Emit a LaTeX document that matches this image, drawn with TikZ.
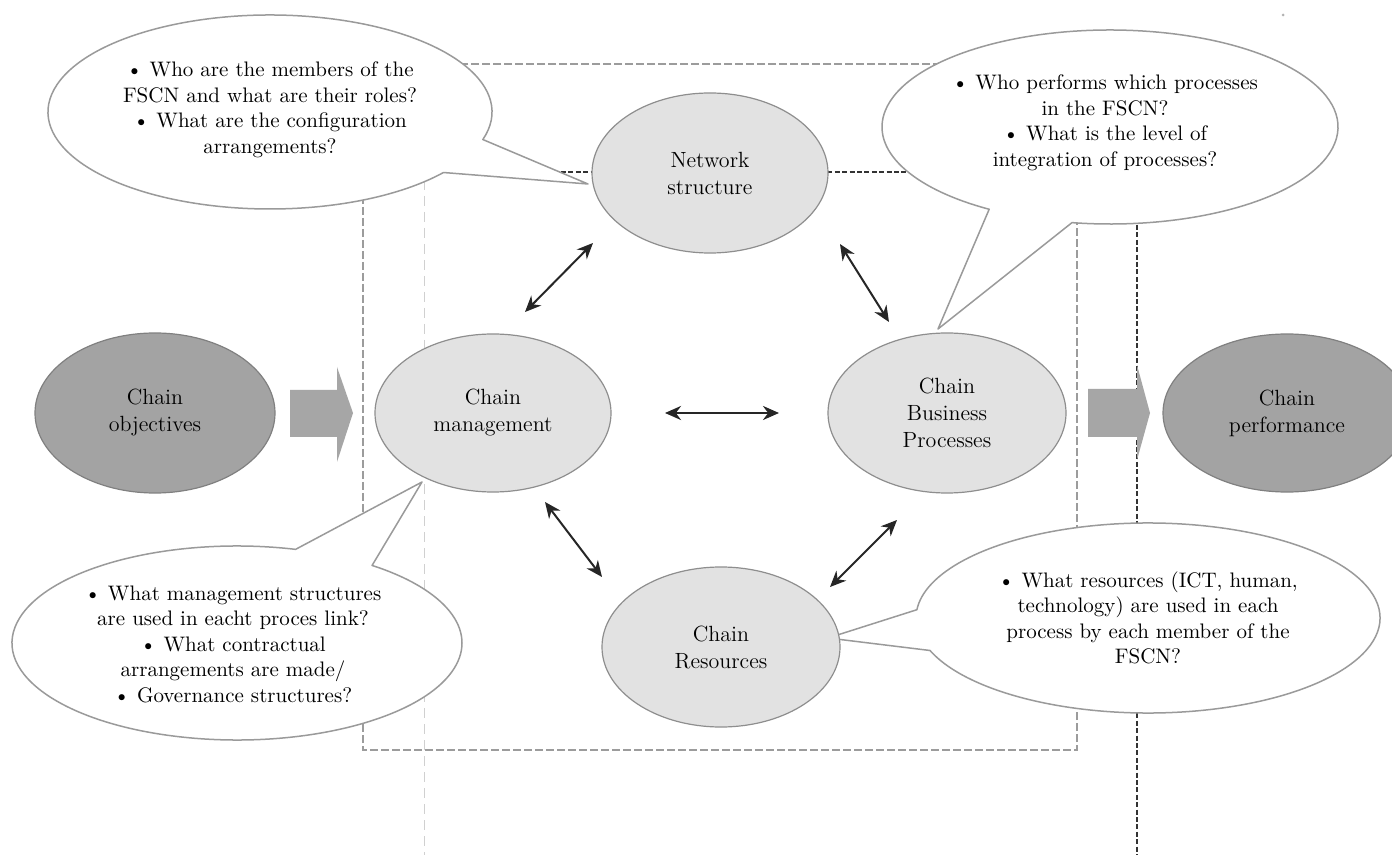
\documentclass[tikz,border=0pt]{standalone}
\usepackage{fontspec}
\usetikzlibrary{arrows.meta,shapes.geometric}
\definecolor{darkfill}{HTML}{A3A3A3}
\definecolor{darkedge}{HTML}{808080}
\definecolor{lightfill}{HTML}{E2E2E2}
\definecolor{lightedge}{HTML}{8E8E8E}
\definecolor{callline}{HTML}{9A9A9A}
\definecolor{blockfill}{HTML}{A6A6A6}
\definecolor{rectdash}{HTML}{9C9C9C}
\definecolor{faintdash}{HTML}{D0D0D0}
\definecolor{darkdash}{HTML}{333333}
\begin{document}
\begin{tikzpicture}[x=0.5pt,y=0.5pt,
  darkell/.style={ellipse, fill=darkfill, draw=darkedge, line width=0.6pt, inner sep=0pt,
    align=center, font=\fontsize{11}{13.5}\selectfont},
  lightell/.style={ellipse, fill=lightfill, draw=lightedge, line width=0.6pt, inner sep=0pt,
    align=center, font=\fontsize{11}{13.5}\selectfont},
  callout/.style={draw=callline, fill=white, line width=0.75pt, line join=round},
  ctext/.style={align=center, inner sep=0pt, font=\fontsize{10.5}{12.75}\selectfont},
  graydash/.style={draw=rectdash, line width=1pt, dash pattern=on 4pt off 1.5pt},
  faintline/.style={draw=faintdash, line width=0.5pt, dash pattern=on 5pt off 3pt},
  darkline/.style={draw=darkdash, line width=0.8pt, dash pattern=on 2.5pt off 1.2pt},
  blockarrow/.style={fill=blockfill},
  dbl/.style={{Stealth[length=8pt,width=7pt]}-{Stealth[length=8pt,width=7pt]}, line width=1pt, draw=black!85},
]
\useasboundingbox (0,0) rectangle (1392,-855);
\fill[white] (0,0) rectangle (1392,-855);

% dashed frames
\draw[graydash] (363,-64) rectangle (1077,-750);
\draw[faintline] (424,-100) -- (424,-855);
\draw[darkline] (450,-172) -- (1137,-172) -- (1137,-855);

% callouts
\draw[callout] (270,-112) ++(343.5:222 and 97)
  arc[start angle=343.5, end angle=681.4, x radius=222, y radius=97] -- (588,-184) -- cycle;
\draw[callout] (1110,-127) ++(260.4:228 and 97)
  arc[start angle=260.4, end angle=598, x radius=228, y radius=97] -- (938,-329) -- cycle;
\draw[callout] (237,-643) ++(74.9:225 and 97)
  arc[start angle=74.9, end angle=413.1, x radius=225, y radius=97] -- (422,-482) -- cycle;
\draw[callout] (1148,-618) ++(200:232 and 95)
  arc[start angle=200, end angle=535, x radius=232, y radius=95] -- (828,-638) -- cycle;

\node[ctext] (qnet) at (270,-110) {• Who are the members of the\\FSCN and what are their roles?\\• What are the configuration\\arrangements?};
\node[ctext] (qproc) at (1105,-123) {• Who performs which processes\\in the FSCN?\\• What is the level of\\integration of processes?};
\node[ctext] (qman) at (233,-644) {• What management structures\\are used in eacht proces link?\\• What contractual\\arrangements are made/\\• Governance structures?};
\node[ctext] (qres) at (1148,-618) {• What resources (ICT, human,\\technology) are used in each\\process by each member of the\\FSCN?};

% block arrows
\fill[blockfill] (290,-390) -- (337,-390) -- (337,-367) -- (353,-413) -- (337,-462) -- (337,-437) -- (290,-437) -- cycle;
\fill[blockfill] (1088,-389) -- (1137,-389) -- (1137,-365) -- (1150,-413) -- (1137,-460) -- (1137,-437) -- (1088,-437) -- cycle;

% main ellipses
\node[darkell, minimum width=120pt, minimum height=80pt] (obj) at (155,-413) {Chain\\objectives};
\node[lightell, minimum width=118pt, minimum height=79pt] (cm) at (493,-413) {Chain\\management};
\node[lightell, minimum width=118pt, minimum height=80pt] (ns) at (710,-173) {Network\\structure};
\node[lightell, minimum width=119pt, minimum height=80pt] (cbp) at (947,-413) {Chain\\Business\\Processes};
\node[lightell, minimum width=119pt, minimum height=80pt] (cr) at (721,-647) {Chain\\Resources};
\node[darkell, minimum width=124pt, minimum height=79pt] (perf) at (1287,-413) {Chain\\performance};

% double arrows
\coordinate (cmA) at (525,-312); \coordinate (nsA) at (593,-243);
\coordinate (nsB) at (840,-244); \coordinate (cbpB) at (889,-322);
\coordinate (cmC) at (665,-413); \coordinate (cbpC) at (779,-413);
\coordinate (cmD) at (545,-502); \coordinate (crD) at (602,-577);
\coordinate (crE) at (830,-587); \coordinate (cbpE) at (897,-520);
\draw[dbl] (cmA) -- (nsA);
\draw[dbl] (nsB) -- (cbpB);
\draw[dbl, line width=1.4pt] (cmC) -- (cbpC);
\draw[dbl] (cmD) -- (crD);
\draw[dbl] (crE) -- (cbpE);

\fill[gray!60] (1283,-15) circle[radius=1.5];
\end{tikzpicture}
\end{document}
